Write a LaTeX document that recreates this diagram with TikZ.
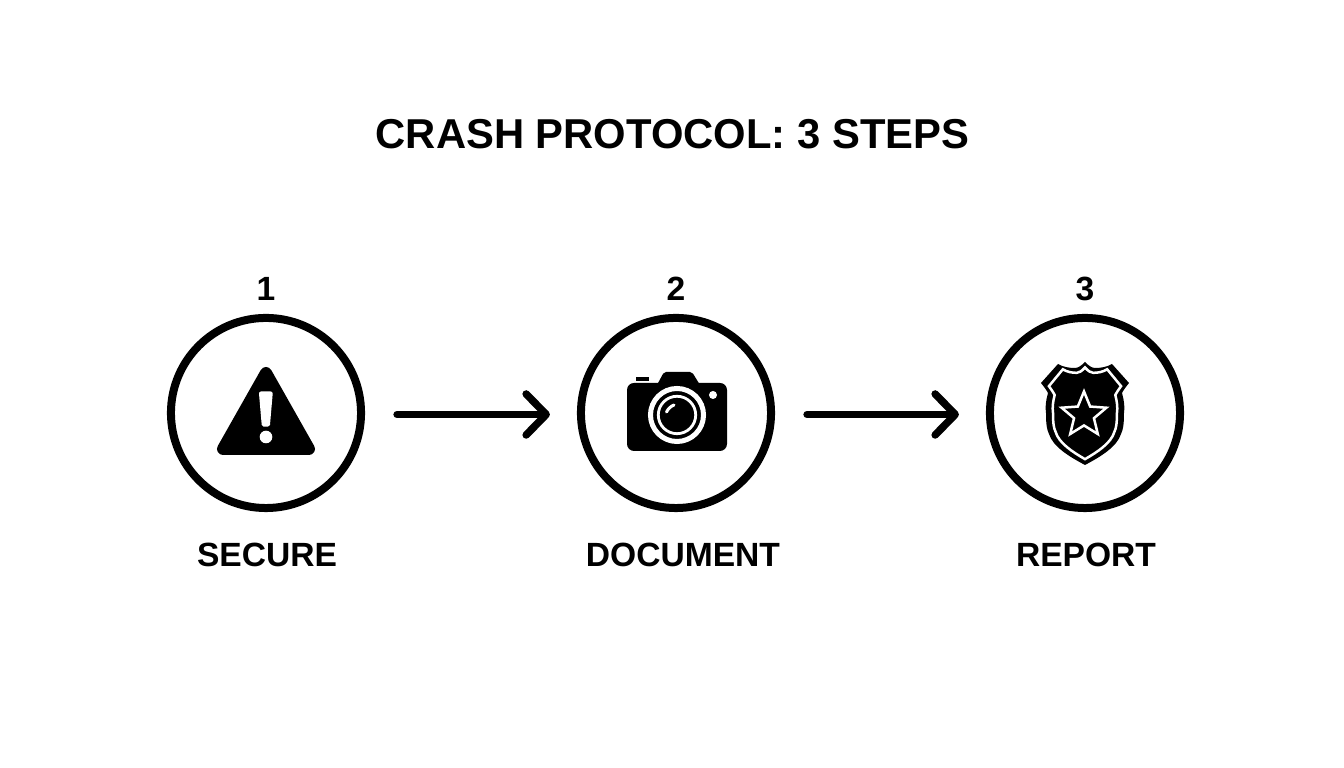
\documentclass[tikz,border=0pt]{standalone}
\usepackage{fontspec}
\setmainfont{Liberation Sans}
\usepackage{tikz}
\usetikzlibrary{arrows.meta,shapes.geometric}
\tikzset{
    steprim/.style={draw,circle,line width=0.08cm,minimum size=1.9cm,inner sep=0pt},
    flowarrow/.style={-{Straight Barb[length=0.2cm,width=0.41cm,round]},line width=0.075cm,line cap=round,shorten <=0.32cm,shorten >=0.27cm},
    titletext/.style={font=\fontsize{11.88}{14}\selectfont\bfseries,inner sep=0pt},
    steptext/.style={font=\fontsize{9.55}{12}\selectfont\bfseries,inner sep=0pt},
    whiteline/.style={draw=white,fill=none}
}
\begin{document}
\begin{tikzpicture}[x=0.01cm,y=-0.01cm]
        \useasboundingbox (0,0) rectangle (1344,768);
        \def\shieldoutline{(0,-50) .. controls (-4,-46) and (-7,-44) .. (-10,-44) .. controls (-16,-44) and (-22,-45) .. (-27,-48) -- (-44,-29) .. controls (-40,-24) and (-38,-21) .. (-37,-19) .. controls (-39,-12) and (-40,-5) .. (-39,1) .. controls (-39,13) and (-38,18) .. (-36,22) .. controls (-32,35) and (-15,45) .. (0,53) .. controls (15,45) and (32,35) .. (36,22) .. controls (38,18) and (39,13) .. (39,1) .. controls (40,-5) and (39,-12) .. (37,-19) .. controls (38,-21) and (40,-24) .. (44,-29) -- (27,-48) .. controls (22,-45) and (16,-44) .. (10,-44) .. controls (7,-44) and (4,-46) .. (0,-50) -- cycle}

        \node[titletext] (title) at (672.5,134) {CRASH PROTOCOL: 3 STEPS};

        \foreach \x/\n/\lab/\lx in {266/1/SECURE/267,676/2/DOCUMENT/683,1085/3/REPORT/1086} {
            \node[steprim] (step\n) at (\x,413) {};
            \node[steptext] (num\n) at (\x,289) {\n};
            \node[steptext] (label\n) at (\lx,555) {\lab};
        }
        \foreach \a/\b in {1/2,2/3} {
            \draw[flowarrow] ([yshift=-0.015cm]step\a.east) -- ([yshift=-0.015cm]step\b.west);
        }

        \draw[fill=black,line width=0.12cm,line join=round] (266,373) -- (309,449) -- (223,449) -- cycle;
        \draw[fill=white,draw=white,line width=0.04cm,line join=round] (261,393.5) -- (270.7,393.5) -- (268,424.7) -- (263.7,424.7) -- cycle;
        \fill[white] (266,437) circle (0.063cm);

        \fill[black,rounded corners=0.07cm] (627,383) rectangle (727,451);
        \fill[black,rounded corners=0.02cm] (657,385) -- (664,372) -- (692,372) -- (700,385) -- cycle;
        \fill[black] (636,377) rectangle (649,381);
        \fill[white] (713,395) circle (0.04cm);
        \draw[whiteline,line width=0.05cm] (677,415) circle (0.265cm);
        \draw[whiteline,line width=0.028cm] (677,415) circle (0.187cm);
        \draw[whiteline,line width=0.03cm,line cap=round] (666.5,412) .. controls (668,409) and (671,406) .. (674,405);

        \begin{scope}[shift={(1085,412)}]
            \fill[black] \shieldoutline;
            \begin{scope}[xscale=0.82,yscale=0.89]
                \draw[whiteline,line width=0.025cm] \shieldoutline;
            \end{scope}
        \end{scope}
        \node[star,star points=5,star point ratio=2.25,draw=white,fill=black,line width=0.025cm,minimum size=0.47cm,inner sep=0pt] (badgestar) at (1084,415) {};
\end{tikzpicture}
\end{document}
